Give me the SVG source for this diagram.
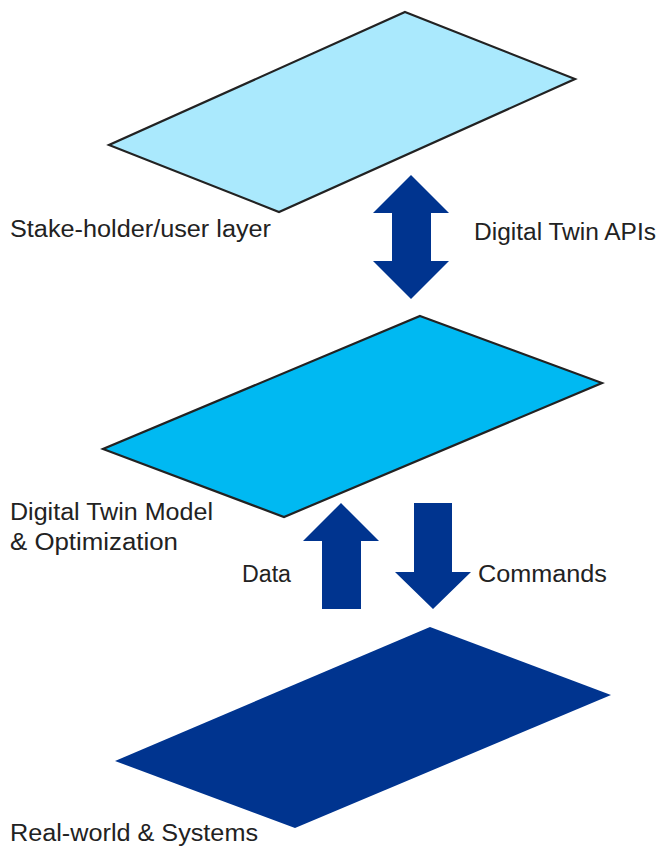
<svg xmlns="http://www.w3.org/2000/svg" width="659" height="847" viewBox="0 0 659 847">
<style>
.lbl{font-family:"Liberation Sans",Arial,sans-serif;font-size:23px;fill:#222;}
.plane{stroke:#222;stroke-width:2.2;stroke-linejoin:miter;}
.arr{fill:#00348f;}
</style>
<rect width="659" height="847" fill="#fff"/>
<g id="layer-user">
<polygon class="plane" fill="#aae9fd" points="405,12 575,79 279,212 109,145"/>
</g>
<g id="layer-model">
<polygon class="plane" fill="#00b9f2" points="420,316 602,383 284,517 103,449"/>
</g>
<g id="layer-real">
<polygon fill="#00348f" points="430,627 611,695 295,828 115,761"/>
</g>
<g id="connectors">
<polygon id="arrow-apis" class="arr" points="411,175 449,213 431,213 431,261 449,261 411,299 373,261 392,261 392,213 373,213"/>
<polygon id="arrow-data" class="arr" points="341,503 379,541 361,541 361,609 322,609 322,541 303,541"/>
<polygon id="arrow-commands" class="arr" points="414,503 452,503 452,572 471,572 433,609 395,572 414,572"/>
</g>
<g id="labels">
<text class="lbl" x="10" y="237" textLength="261" lengthAdjust="spacingAndGlyphs">Stake-holder/user layer</text>
<text class="lbl" x="474" y="240" textLength="182" lengthAdjust="spacingAndGlyphs">Digital Twin APIs</text>
<text class="lbl" x="10" y="520" textLength="203" lengthAdjust="spacingAndGlyphs">Digital Twin Model</text>
<text class="lbl" x="10" y="550" textLength="168" lengthAdjust="spacingAndGlyphs">&amp; Optimization</text>
<text class="lbl" x="242" y="582" textLength="49" lengthAdjust="spacingAndGlyphs">Data</text>
<text class="lbl" x="478" y="582" textLength="129" lengthAdjust="spacingAndGlyphs">Commands</text>
<text class="lbl" x="10" y="841" textLength="248" lengthAdjust="spacingAndGlyphs">Real-world &amp; Systems</text>
</g>
</svg>
